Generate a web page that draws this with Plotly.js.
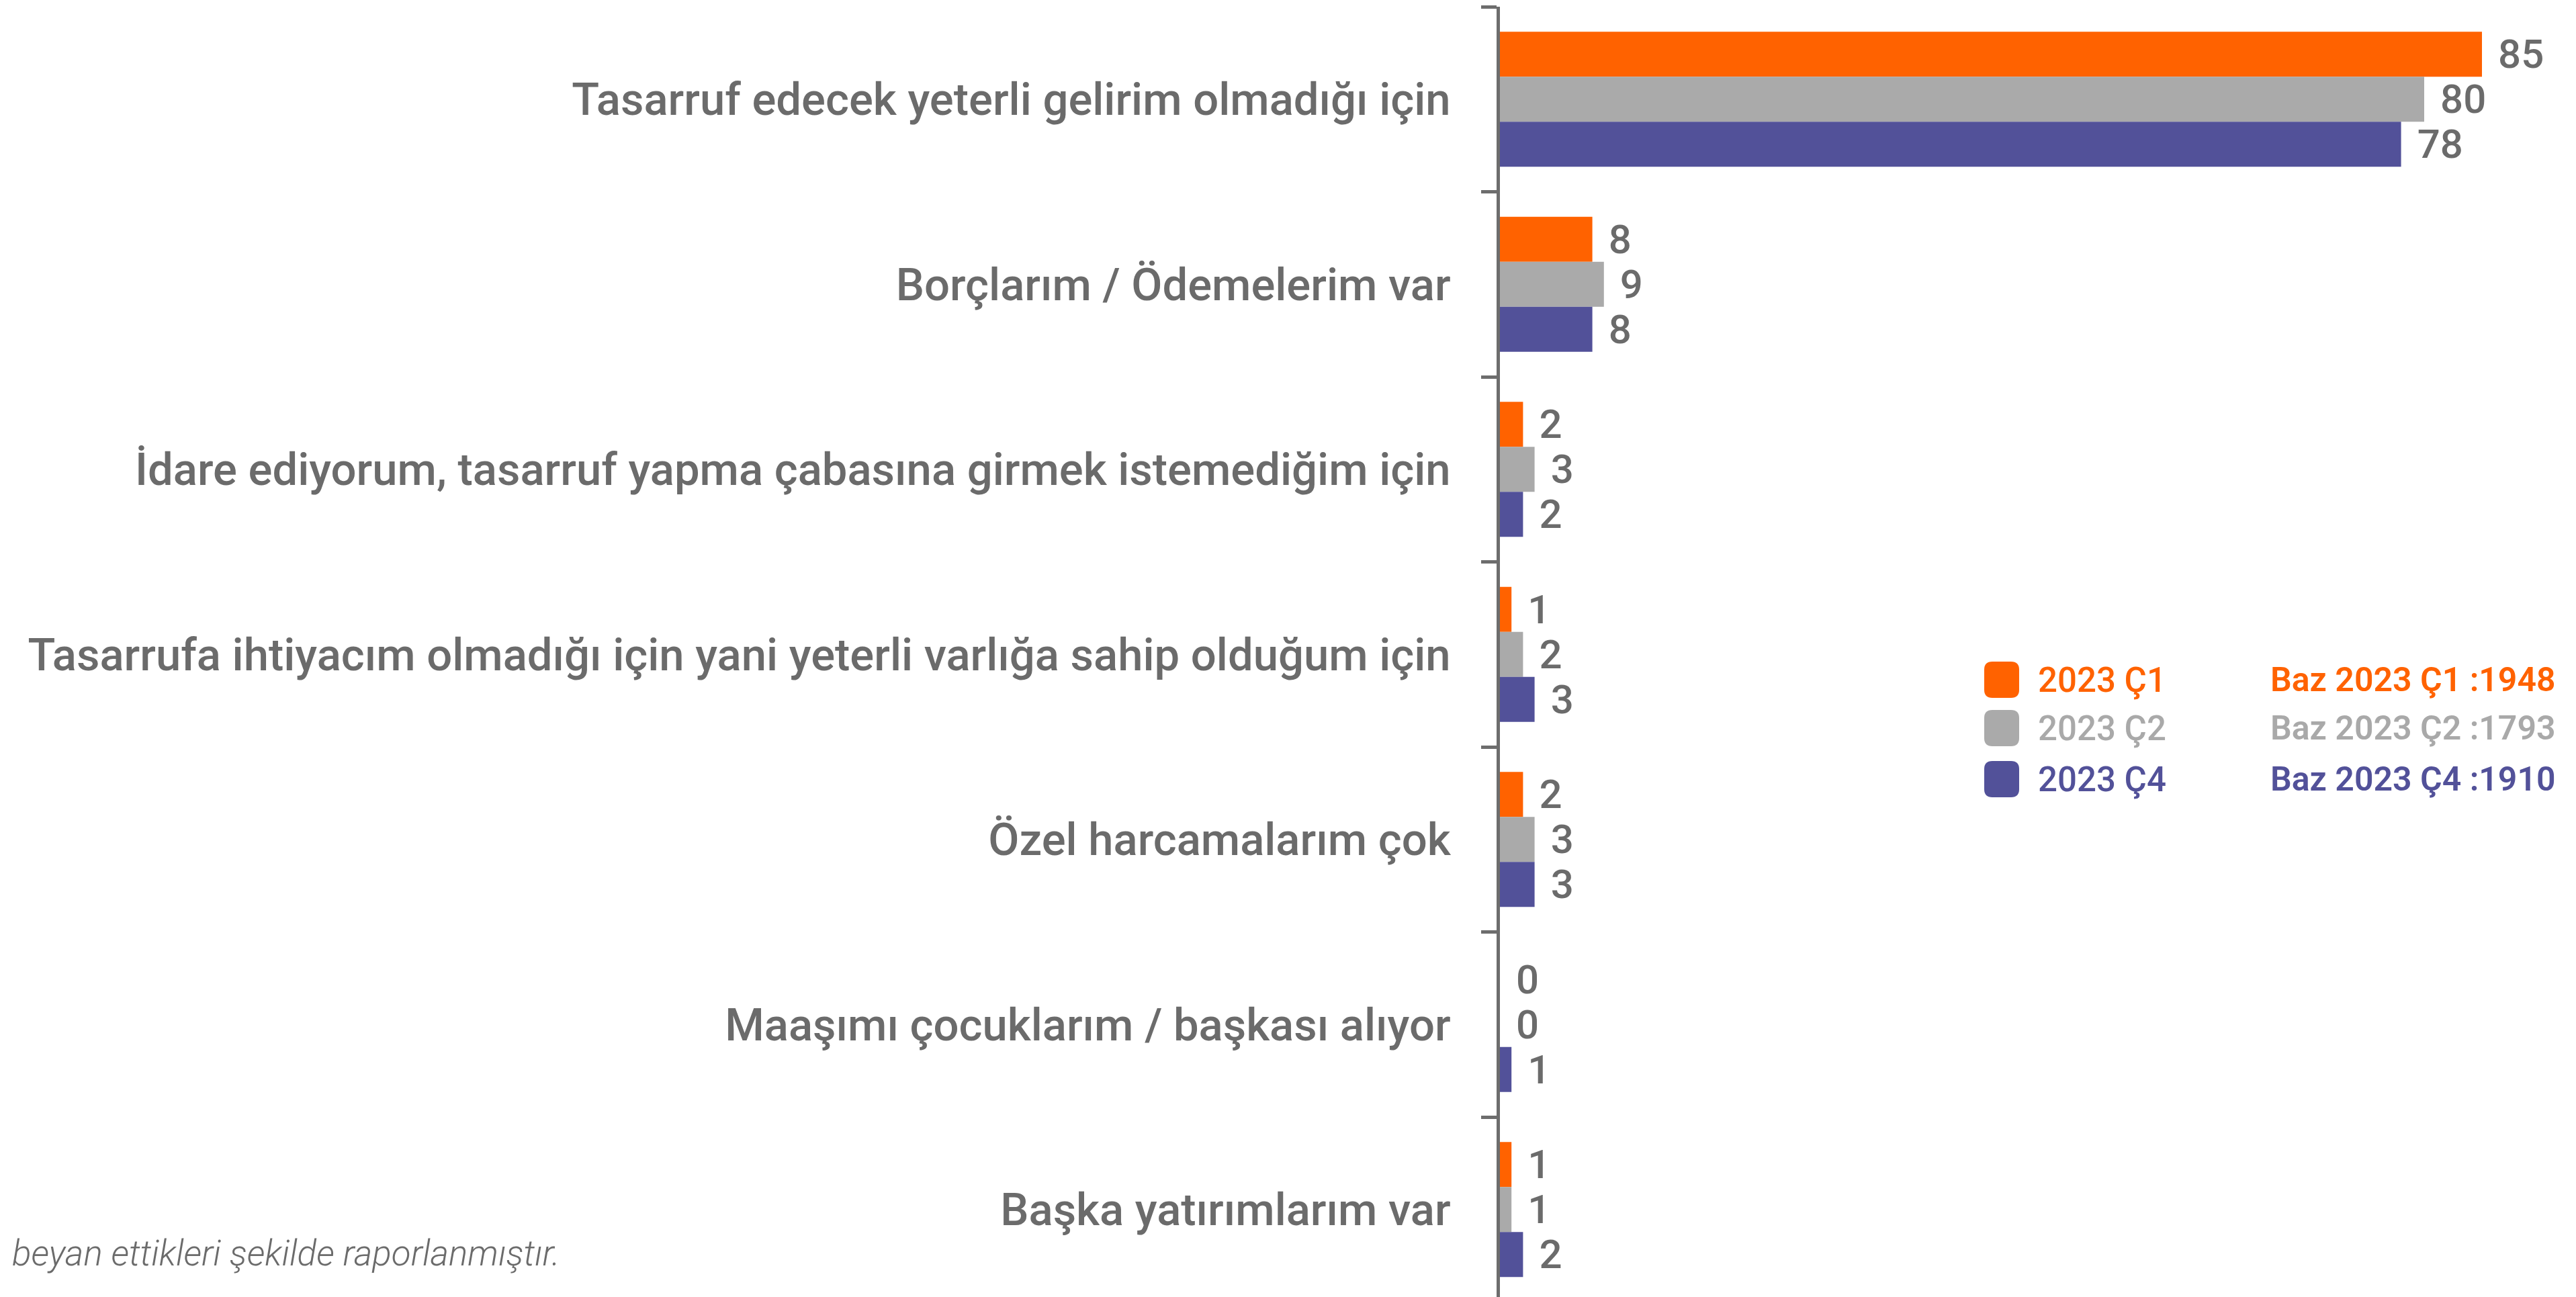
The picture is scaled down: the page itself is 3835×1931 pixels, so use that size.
<!DOCTYPE html>
<html>
<head>
<meta charset="utf-8">
<script src="https://cdn.plot.ly/plotly-3.0.1.min.js"></script>
<style>
  html, body { margin: 0; padding: 0; background: #ffffff; }
  #chart { width: 3835px; height: 1931px; }
</style>
</head>
<body>
<div id="chart"></div>
<script>
// ---- data ----
const categories = [
  "Tasarruf edecek yeterli gelirim olmadığı için",
  "Borçlarım / Ödemelerim var",
  "İdare ediyorum, tasarruf yapma çabasına girmek istemediğim için",
  "Tasarrufa ihtiyacım olmadığı için yani yeterli varlığa sahip olduğum için",
  "Özel harcamalarım çok",
  "Maaşımı çocuklarım / başkası alıyor",
  "Başka yatırımlarım var"
];
const seriesNames = ["2023 Ç1", "2023 Ç2", "2023 Ç4"];
const q1Values = [85, 8, 2, 1, 2, 0, 1];
const q2Values = [80, 9, 3, 2, 3, 0, 1];
const q4Values = [78, 8, 2, 3, 3, 1, 2];
const baseLabels = ["Baz 2023 Ç1 :1948", "Baz 2023 Ç2 :1793", "Baz 2023 Ç4 :1910"];
const footnote = "beyan ettikleri şekilde raporlanmıştır.";

// ---- styling ----
const W = 3835, H = 1931;
const M = { l: 2233, r: 0, t: 10, b: 0 };
const plotW = W - M.l - M.r, plotH = H - M.t - M.b;
const colors = ["#FF6200", "#AAAAAA", "#525199"];
const legendTextColors = ["#FF6200", "#A9A9A9", "#525199"];
const textGray = "#6B6B6B";
const FONT = "Roboto, 'Open Sans', sans-serif";

const allValues = [q1Values, q2Values, q4Values];
const traces = allValues.map((vals, i) => ({
  type: "bar",
  orientation: "h",
  name: seriesNames[i],
  y: categories,
  x: vals,
  marker: { color: colors[i], line: { width: 0 } },
  texttemplate: "\u00A0\u200A%{x}",
  textposition: "outside",
  constraintext: "none",
  cliponaxis: false,
  textfont: { family: FONT, size: 60, color: textGray, weight: 500 },
  hoverinfo: "skip"
}));

// helpers: pixel -> paper
const px = x => (x - M.l) / plotW;
const py = y => 1 - (y - M.t) / plotH;

function roundRectPath(x0, y0, x1, y1, r) {
  const P = (x, y) => px(x) + "," + py(y);
  return "M" + P(x0 + r, y0) +
    " L" + P(x1 - r, y0) + " Q" + P(x1, y0) + " " + P(x1, y0 + r) +
    " L" + P(x1, y1 - r) + " Q" + P(x1, y1) + " " + P(x1 - r, y1) +
    " L" + P(x0 + r, y1) + " Q" + P(x0, y1) + " " + P(x0, y1 - r) +
    " L" + P(x0, y0 + r) + " Q" + P(x0, y0) + " " + P(x0 + r, y0) + " Z";
}

const legendRowsY = [1012, 1084, 1160];
const shapes = [];
const annotations = [];
legendRowsY.forEach((cy, i) => {
  shapes.push({
    type: "path", xref: "paper", yref: "paper",
    path: roundRectPath(2954, cy - 27, 3006, cy + 27, 12),
    fillcolor: colors[i], line: { width: 0 }
  });
  annotations.push({
    xref: "paper", yref: "paper", x: px(3032), y: py(cy),
    xanchor: "left", yanchor: "middle", showarrow: false,
    text: seriesNames[i],
    font: { family: FONT, size: 51, color: legendTextColors[i], weight: 500 }
  });
  annotations.push({
    xref: "paper", yref: "paper", x: px(3378), y: py(cy),
    xanchor: "left", yanchor: "middle", showarrow: false,
    text: baseLabels[i],
    font: { family: FONT, size: 50, color: legendTextColors[i], weight: 600 }
  });
});
annotations.push({
  xref: "paper", yref: "paper", x: px(16), y: py(1866),
  xanchor: "left", yanchor: "middle", showarrow: false,
  text: footnote,
  font: { family: FONT, size: 53, color: "#6B6B6B", style: "italic", weight: 300 }
});

const bandPx = 275.5;
const yBottom = -0.5 + plotH / bandPx;

const layout = {
  width: W, height: H,
  margin: M,
  paper_bgcolor: "#ffffff",
  plot_bgcolor: "#ffffff",
  showlegend: false,
  barmode: "group",
  bargap: 0.27,
  bargroupgap: 0,
  font: { family: FONT, color: textGray },
  xaxis: {
    visible: false,
    range: [0, plotW / 17.2],
    fixedrange: true
  },
  yaxis: {
    type: "category",
    range: [yBottom, -0.5],
    showline: true,
    linecolor: "#6D6D6D",
    linewidth: 5,
    ticks: "outside",
    tickson: "boundaries",
    ticklen: 23,
    tickwidth: 5,
    tickcolor: "#6D6D6D",
    ticklabelstandoff: 55,
    showgrid: false,
    zeroline: false,
    tickfont: { family: FONT, size: 67, color: textGray, weight: 500 },
    fixedrange: true
  },
  shapes: shapes,
  annotations: annotations
};

Plotly.newPlot("chart", traces, layout, { displayModeBar: false, staticPlot: true });
</script>
</body>
</html>
